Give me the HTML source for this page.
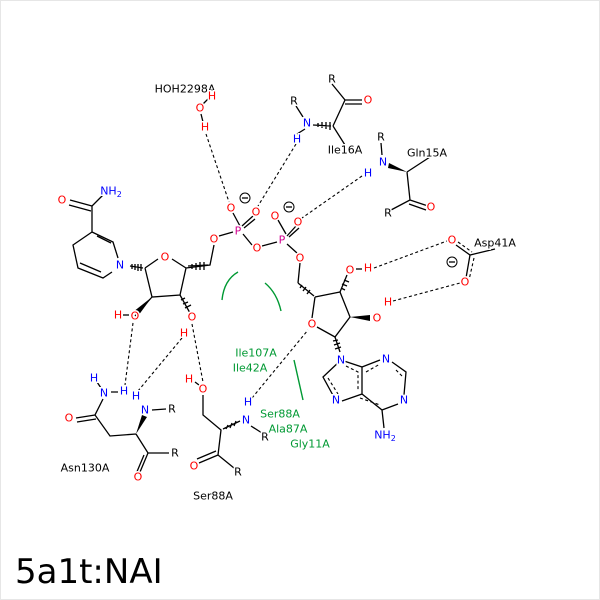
<!DOCTYPE html>
<html><head><meta charset="utf-8"><style>
html,body{margin:0;padding:0;background:#fff;}
svg{display:block}
text{font-family:"DejaVu Sans","Liberation Sans",sans-serif;font-size:11px;text-anchor:middle;dominant-baseline:central;paint-order:stroke;stroke:#fff;stroke-width:3px}
.b{stroke:#000;stroke-width:1.3;fill:none}
.d{stroke:#000;stroke-width:1.1;fill:none;stroke-dasharray:3,2.5}
.o{fill:#f00}.n{fill:#00f}.p{fill:#d0008f}.g{fill:#093;font-size:11px}
</style></head><body>
<svg width="600" height="600" viewBox="0 0 600 600">
<rect x="0.5" y="0.5" width="599" height="599" fill="#fff" stroke="#e6e6e6"/>
<!-- hbonds -->
<path class="d" d="M206,134 L229,202 M296,144 L258,206 M362,176 L302,218 M374,268 L447,241 M393,301 L460,283 M133,323 L125,385 M182,338 L138,391 M192,324 L203,382 M252,398 L308,330"/>
<!-- nicotinamide -->
<path class="b" d="M92,232 L113,242 L118,258 M112,272 L103,278 L78,268 L73,245 L92,232 M97,236 L111,243 M80,263 L101,272 M92,232 L92,206 L103,195 M92,206 L70,200 M91,211 L69,205"/>
<text x="62" y="200" class="o">O</text><text x="111" y="191" class="n">NH<tspan font-size="8" dy="3">2</tspan></text>
<text x="120" y="265" class="n">N</text>
<!-- ribose 1 -->
<path class="b" d="M145,268 L158,259 M172,259 L186,268 L180,295 L152,297 L145,268 M186,268 L210,265 L214,245 M135,316 L152,297"/>
<path class="b" d="M130,266 L143,268 M132,264 L132,269 M135,264 L135,270 M138,264 L138,271 M141,264 L141,271"/>
<path class="b" d="M188,266 L208,265 M192,264 L192,269 M196,263 L196,270 M200,262 L200,270 M204,262 L204,270"/>
<path d="M152,297 L133,312 L138,316 Z" fill="#000"/>
<path class="b" d="M180,295 L190,313 M181,300 L185,298 M183,304 L188,302 M185,308 L191,305"/>
<text x="165" y="257" class="o">O</text>
<text x="135" y="316" class="o">O</text><text x="118" y="315" class="o">H</text><path class="b" d="M123,315 L129,315"/>
<text x="192" y="317" class="o">O</text><text x="184" y="333" class="o">H</text>
<text x="214" y="239" class="o">O</text>
<!-- phosphates -->
<path class="b" d="M219,236 L233,232 M243,234 L252,245 M262,246 L277,242 M240,226 L233,213 M242,226 L253,216 M244,228 L255,219 M286,234 L278,220 M287,236 L296,226 M289,237 L299,228 M287,244 L297,253 M300,263 L298,283"/>
<path class="b" d="M298,283 L314,296 M302,285 L300,288 M306,287 L303,291 M310,290 L307,294"/>
<text x="238" y="231" class="p">P</text><text x="282" y="240" class="p">P</text>
<text x="231" y="208" class="o">O</text><text x="256" y="212" class="o">O</text><text x="257" y="248" class="o">O</text>
<text x="275" y="216" class="o">O</text><text x="298" y="222" class="o">O</text><text x="300" y="258" class="o">O</text>
<circle cx="245" cy="198" r="5" fill="none" stroke="#000"/><path class="b" d="M242,198 L248,198"/>
<circle cx="289" cy="207" r="5" fill="none" stroke="#000"/><path class="b" d="M286,207 L292,207"/>
<!-- ribose 2 -->
<path class="b" d="M315,297 L340,292 L350,317 L335,337 L317,327 M312,318 L315,297"/>
<path class="b" d="M340,292 L347,275 M341,288 L345,290 M342,284 L347,286 M344,280 L349,282"/>
<path class="b" d="M335,337 L340,352 M333,341 L338,340 M334,345 L340,343 M335,349 L341,347"/>
<path d="M350,317 L370,315 L370,321 Z" fill="#000"/>
<text x="312" y="324" class="o">O</text>
<text x="350" y="270" class="o">O</text><text x="368" y="268" class="o">H</text><path class="b" d="M356,269 L362,269"/>
<text x="377" y="318" class="o">O</text><text x="388" y="302" class="o">H</text>
<!-- adenine -->
<path class="b" d="M341,360 L323,377 L335,399 M341,360 L362,367 L362,394 L342,401 M362,367 L380,360 M392,362 L406,372 L404,395 M398,404 L382,410 L362,394 M382,410 L384,428"/>
<path class="d" d="M346,366 L358,372 L358,390 M328,378 L338,394 M360,398 L380,405 M396,370 L402,376 M366,372 L380,364"/>
<text x="341" y="360" class="n">N</text><text x="336" y="400" class="n">N</text><text x="386" y="359" class="n">N</text>
<text x="404" y="400" class="n">N</text><text x="385" y="435" class="n">NH<tspan font-size="8" dy="3">2</tspan></text>
<!-- Asp41A -->
<path class="b" d="M456,245 L470,255 L495,249 M470,255 L466,278"/>
<path class="d" d="M458,242 L472,252 M474,258 L469,280"/>
<text x="452" y="240" class="o">O</text><text x="465" y="282" class="o">O</text>
<circle cx="452" cy="262" r="5" fill="none" stroke="#000"/><path class="b" d="M449,262 L455,262"/>
<text x="495" y="243">Asp41A</text>
<!-- Gln15A -->
<path class="b" d="M381,143 L382,155 M407,172 L430,157 M407,172 L410,200 L391,210 M410,200 L428,206 M409,204 L426,210"/>
<path d="M389,163 L407,172 L388,168 Z" fill="#000"/>
<text x="381" y="137">R</text><text x="383" y="162" class="n">N</text><text x="368" y="173" class="n">H</text>
<text x="427" y="153">Gln15A</text><text x="431" y="207" class="o">O</text><text x="388" y="213">R</text>
<!-- Ile16A -->
<path class="b" d="M296,106 L303,117 M297,134 L305,129 M333,126 L345,100 L332,84 M345,100 L362,100 M345,104 L362,104 M333,126 L345,145"/>
<path class="b" d="M313,125 L331,126 M318,123 L318,127 M322,122 L322,128 M326,122 L326,129 M330,122 L330,130"/>
<text x="294" y="101">R</text><text x="307" y="123" class="n">N</text><text x="297" y="139" class="n">H</text>
<text x="332" y="79">R</text><text x="368" y="100" class="o">O</text><text x="345" y="150">Ile16A</text>
<!-- HOH -->
<path class="b" d="M208,99 L203,104 M201,114 L203,122"/>
<text x="185" y="89">HOH2298A</text>
<text x="212" y="96" class="o">H</text><text x="200" y="108" class="o">O</text><text x="205" y="127" class="o">H</text>
<!-- Asn130A -->
<path class="b" d="M97,382 L101,388 M111,392 L118,392 M103,399 L95,415 L110,436 L136,434 M95,415 L76,418 M96,419 L77,422 M136,434 L148,453 L169,453 M148,453 L140,472 M144,455 L136,474 M152,410 L166,409"/>
<path d="M136,434 L142,415 L147,417 Z" fill="#000"/>
<text x="94" y="378" class="n">H</text><text x="104" y="393" class="n">N</text><text x="124" y="391" class="n">H</text>
<text x="69" y="418" class="o">O</text><text x="145" y="410" class="n">N</text><text x="136" y="396" class="n">H</text>
<text x="172" y="409">R</text><text x="138" y="477" class="o">O</text><text x="175" y="453">R</text>
<text x="85" y="468">Asn130A</text>
<!-- Ser88A -->
<path class="b" d="M195,382 L199,385 M203,395 L203,415 L221,430 L218,455 L234,468 M218,455 L199,463 M216,451 L197,459 M251,426 L262,433"/>
<path class="b" d="M223,429 L240,421 M228,425 L226,429 M232,423 L230,428 M236,421 L234,426"/>
<text x="189" y="379" class="o">H</text><text x="203" y="389" class="o">O</text>
<text x="246" y="420" class="n">N</text><text x="248" y="402" class="n">H</text>
<text x="265" y="437">R</text><text x="194" y="466" class="o">O</text><text x="238" y="472">R</text>
<text x="213" y="496">Ser88A</text>
<!-- green -->
<text x="256" y="353" class="g">Ile107A</text><text x="250" y="368" class="g">Ile42A</text>
<text x="280" y="414" class="g">Ser88A</text><text x="288" y="429" class="g">Ala87A</text><text x="310" y="444" class="g">Gly11A</text>
<path d="M222,300 Q224,280 238,272" stroke="#093" stroke-width="1.4" fill="none"/>
<path d="M265,283 Q277,293 281,311" stroke="#093" stroke-width="1.4" fill="none"/>
<path d="M294,360 L303,400" stroke="#093" stroke-width="1.4" fill="none"/>
<text x="15" y="572" style="font-size:34px;text-anchor:start;font-family:'DejaVu Sans',sans-serif;stroke:none">5a1t:NAI</text>
</svg>
</body></html>
